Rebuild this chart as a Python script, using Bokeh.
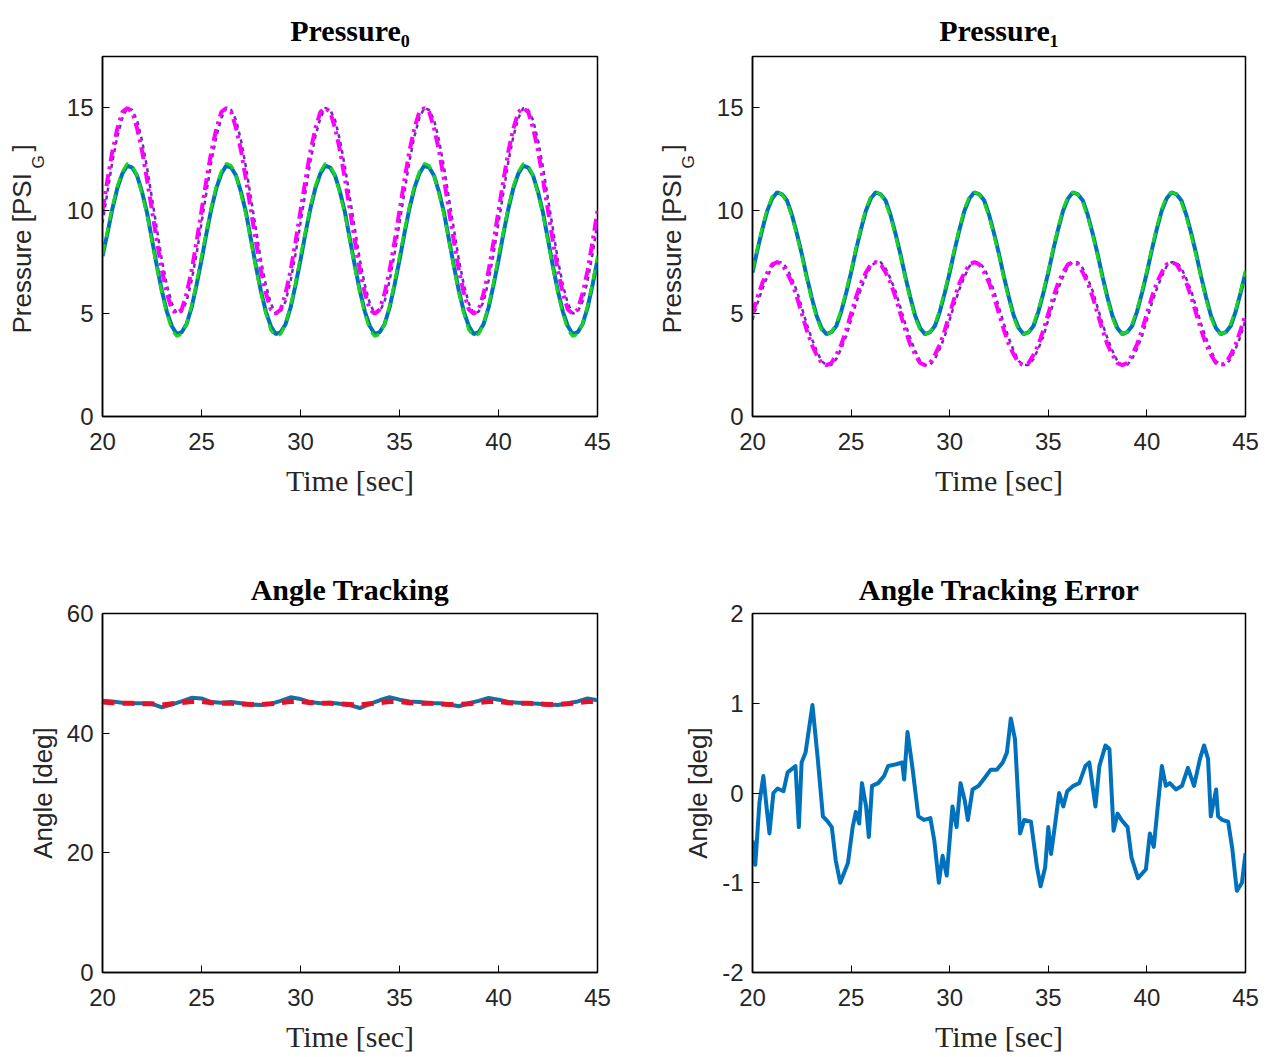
from bokeh.plotting import figure
from bokeh.layouts import gridplot
from bokeh.models import Range1d, FixedTicker, Title
from bokeh.embed import file_html
from bokeh.resources import INLINE

SANS = "Liberation Sans"
SERIF = "Liberation Serif"
TXT = "#262626"

# ---------------- data ----------------
X_TICKS = [20, 25, 30, 35, 40, 45]
P_TICKS = [0, 5, 10, 15]
A_TICKS = [0, 20, 40, 60]
E_TICKS = [-2, -1, 0, 1, 2]
E_TICK_LABELS = {-2: "-2", -1: "-1", 0: "0", 1: "1", 2: "2"}

# pressure samples every 0.25 s from 20 s to 45 s
T_P = [20 + 0.25 * i for i in range(101)]

P0_MEAS = [7.8, 8.9, 10.1, 11.1, 11.8, 12.2, 12.1, 11.7, 10.9, 9.9, 8.6, 7.3, 6.1, 5.1, 4.4, 4.0, 4.1, 4.5, 5.3, 6.4,
           7.6, 8.9, 10.1, 11.1, 11.8, 12.2, 12.1, 11.7, 10.9, 9.9, 8.6, 7.3, 6.1, 5.1, 4.4, 4.0, 4.1, 4.5, 5.3, 6.4,
           7.6, 8.9, 10.1, 11.1, 11.8, 12.2, 12.1, 11.7, 10.9, 9.9, 8.6, 7.3, 6.1, 5.1, 4.4, 4.0, 4.1, 4.5, 5.3, 6.4,
           7.6, 8.9, 10.1, 11.1, 11.8, 12.2, 12.1, 11.7, 10.9, 9.9, 8.6, 7.3, 6.1, 5.1, 4.4, 4.0, 4.1, 4.5, 5.3, 6.4,
           7.6, 8.9, 10.1, 11.1, 11.8, 12.2, 12.1, 11.7, 10.9, 9.9, 8.6, 7.3, 6.1, 5.1, 4.4, 4.0, 4.1, 4.5, 5.3, 6.4,
           7.6]
P0_MODEL = [7.9, 9.0, 10.2, 11.2, 11.9, 12.3, 12.2, 11.7, 10.8, 9.8, 8.5, 7.2, 6.0, 5.0, 4.2, 3.9, 4.0, 4.5, 5.4, 6.5,
            7.8, 9.0, 10.2, 11.2, 11.9, 12.3, 12.2, 11.7, 10.8, 9.8, 8.5, 7.2, 6.0, 5.0, 4.2, 3.9, 4.0, 4.5, 5.4, 6.5,
            7.8, 9.0, 10.2, 11.2, 11.9, 12.3, 12.2, 11.7, 10.8, 9.8, 8.5, 7.2, 6.0, 5.0, 4.2, 3.9, 4.0, 4.5, 5.4, 6.5,
            7.8, 9.0, 10.2, 11.2, 11.9, 12.3, 12.2, 11.7, 10.8, 9.8, 8.5, 7.2, 6.0, 5.0, 4.2, 3.9, 4.0, 4.5, 5.4, 6.5,
            7.8, 9.0, 10.2, 11.2, 11.9, 12.3, 12.2, 11.7, 10.8, 9.8, 8.5, 7.2, 6.0, 5.0, 4.2, 3.9, 4.0, 4.5, 5.4, 6.5,
            7.8]
P0_CMD = [10.0, 11.5, 12.9, 14.0, 14.8, 15.0, 14.8, 14.0, 12.9, 11.5, 10.0, 8.5, 7.1, 6.0, 5.2, 5.0, 5.2, 6.0, 7.1, 8.5,
          10.0, 11.5, 12.9, 14.0, 14.8, 15.0, 14.8, 14.0, 12.9, 11.5, 10.0, 8.5, 7.1, 6.0, 5.2, 5.0, 5.2, 6.0, 7.1, 8.5,
          10.0, 11.5, 12.9, 14.0, 14.8, 15.0, 14.8, 14.0, 12.9, 11.5, 10.0, 8.5, 7.1, 6.0, 5.2, 5.0, 5.2, 6.0, 7.1, 8.5,
          10.0, 11.5, 12.9, 14.0, 14.8, 15.0, 14.8, 14.0, 12.9, 11.5, 10.0, 8.5, 7.1, 6.0, 5.2, 5.0, 5.2, 6.0, 7.1, 8.5,
          10.0, 11.5, 12.9, 14.0, 14.8, 15.0, 14.8, 14.0, 12.9, 11.5, 10.0, 8.5, 7.1, 6.0, 5.2, 5.0, 5.2, 6.0, 7.1, 8.5,
          10.0]
P0_DES = [9.4, 10.9, 12.4, 13.6, 14.5, 15.0, 14.9, 14.4, 13.4, 12.1, 10.6, 9.1, 7.6, 6.4, 5.5, 5.0, 5.1, 5.6, 6.6, 7.9,
          9.4, 10.9, 12.4, 13.6, 14.5, 15.0, 14.9, 14.4, 13.4, 12.1, 10.6, 9.1, 7.6, 6.4, 5.5, 5.0, 5.1, 5.6, 6.6, 7.9,
          9.4, 10.9, 12.4, 13.6, 14.5, 15.0, 14.9, 14.4, 13.4, 12.1, 10.6, 9.1, 7.6, 6.4, 5.5, 5.0, 5.1, 5.6, 6.6, 7.9,
          9.4, 10.9, 12.4, 13.6, 14.5, 15.0, 14.9, 14.4, 13.4, 12.1, 10.6, 9.1, 7.6, 6.4, 5.5, 5.0, 5.1, 5.6, 6.6, 7.9,
          9.4, 10.9, 12.4, 13.6, 14.5, 15.0, 14.9, 14.4, 13.4, 12.1, 10.6, 9.1, 7.6, 6.4, 5.5, 5.0, 5.1, 5.6, 6.6, 7.9,
          9.4]

P1_MEAS = [7.0, 8.1, 9.1, 10.0, 10.6, 10.9, 10.8, 10.5, 9.8, 8.9, 7.9, 6.8, 5.8, 4.9, 4.3, 4.0, 4.1, 4.4, 5.1, 6.0,
           7.0, 8.1, 9.1, 10.0, 10.6, 10.9, 10.8, 10.5, 9.8, 8.9, 7.9, 6.8, 5.8, 4.9, 4.3, 4.0, 4.1, 4.4, 5.1, 6.0,
           7.0, 8.1, 9.1, 10.0, 10.6, 10.9, 10.8, 10.5, 9.8, 8.9, 7.9, 6.8, 5.8, 4.9, 4.3, 4.0, 4.1, 4.4, 5.1, 6.0,
           7.0, 8.1, 9.1, 10.0, 10.6, 10.9, 10.8, 10.5, 9.8, 8.9, 7.9, 6.8, 5.8, 4.9, 4.3, 4.0, 4.1, 4.4, 5.1, 6.0,
           7.0, 8.1, 9.1, 10.0, 10.6, 10.9, 10.8, 10.5, 9.8, 8.9, 7.9, 6.8, 5.8, 4.9, 4.3, 4.0, 4.1, 4.4, 5.1, 6.0,
           7.0]
P1_MODEL = [7.1, 8.2, 9.2, 10.1, 10.7, 10.9, 10.8, 10.4, 9.7, 8.8, 7.8, 6.7, 5.7, 4.8, 4.2, 4.0, 4.1, 4.5, 5.2, 6.1,
            7.1, 8.2, 9.2, 10.1, 10.7, 10.9, 10.8, 10.4, 9.7, 8.8, 7.8, 6.7, 5.7, 4.8, 4.2, 4.0, 4.1, 4.5, 5.2, 6.1,
            7.1, 8.2, 9.2, 10.1, 10.7, 10.9, 10.8, 10.4, 9.7, 8.8, 7.8, 6.7, 5.7, 4.8, 4.2, 4.0, 4.1, 4.5, 5.2, 6.1,
            7.1, 8.2, 9.2, 10.1, 10.7, 10.9, 10.8, 10.4, 9.7, 8.8, 7.8, 6.7, 5.7, 4.8, 4.2, 4.0, 4.1, 4.5, 5.2, 6.1,
            7.1, 8.2, 9.2, 10.1, 10.7, 10.9, 10.8, 10.4, 9.7, 8.8, 7.8, 6.7, 5.7, 4.8, 4.2, 4.0, 4.1, 4.5, 5.2, 6.1,
            7.1]
P1_CMD = [5.0, 5.8, 6.5, 7.0, 7.4, 7.5, 7.4, 7.0, 6.5, 5.8, 5.0, 4.2, 3.5, 3.0, 2.6, 2.5, 2.6, 3.0, 3.5, 4.2,
          5.0, 5.8, 6.5, 7.0, 7.4, 7.5, 7.4, 7.0, 6.5, 5.8, 5.0, 4.2, 3.5, 3.0, 2.6, 2.5, 2.6, 3.0, 3.5, 4.2,
          5.0, 5.8, 6.5, 7.0, 7.4, 7.5, 7.4, 7.0, 6.5, 5.8, 5.0, 4.2, 3.5, 3.0, 2.6, 2.5, 2.6, 3.0, 3.5, 4.2,
          5.0, 5.8, 6.5, 7.0, 7.4, 7.5, 7.4, 7.0, 6.5, 5.8, 5.0, 4.2, 3.5, 3.0, 2.6, 2.5, 2.6, 3.0, 3.5, 4.2,
          5.0, 5.8, 6.5, 7.0, 7.4, 7.5, 7.4, 7.0, 6.5, 5.8, 5.0, 4.2, 3.5, 3.0, 2.6, 2.5, 2.6, 3.0, 3.5, 4.2,
          5.0]
P1_DES = [4.7, 5.5, 6.2, 6.8, 7.3, 7.5, 7.5, 7.2, 6.7, 6.1, 5.3, 4.5, 3.8, 3.2, 2.7, 2.5, 2.5, 2.8, 3.3, 3.9,
          4.7, 5.5, 6.2, 6.8, 7.3, 7.5, 7.5, 7.2, 6.7, 6.1, 5.3, 4.5, 3.8, 3.2, 2.7, 2.5, 2.5, 2.8, 3.3, 3.9,
          4.7, 5.5, 6.2, 6.8, 7.3, 7.5, 7.5, 7.2, 6.7, 6.1, 5.3, 4.5, 3.8, 3.2, 2.7, 2.5, 2.5, 2.8, 3.3, 3.9,
          4.7, 5.5, 6.2, 6.8, 7.3, 7.5, 7.5, 7.2, 6.7, 6.1, 5.3, 4.5, 3.8, 3.2, 2.7, 2.5, 2.5, 2.8, 3.3, 3.9,
          4.7, 5.5, 6.2, 6.8, 7.3, 7.5, 7.5, 7.2, 6.7, 6.1, 5.3, 4.5, 3.8, 3.2, 2.7, 2.5, 2.5, 2.8, 3.3, 3.9,
          4.7]

# angle samples every 0.5 s
T_A = [20 + 0.5 * i for i in range(51)]
ANG_MEAS = [45.4, 45.3, 45.1, 45.0, 45.0, 44.9, 44.3, 44.8, 45.3, 45.9,
            45.8, 45.2, 45.1, 45.2, 45.0, 44.8, 44.7, 44.9, 45.4, 46.0,
            45.7, 45.2, 45.0, 45.1, 44.9, 44.7, 44.2, 44.9, 45.5, 46.0,
            45.6, 45.3, 45.2, 45.0, 45.0, 44.8, 44.5, 45.0, 45.4, 45.9,
            45.6, 45.2, 45.1, 45.0, 44.9, 44.8, 44.7, 45.0, 45.3, 45.8,
            45.5]
ANG_REF = [45.2, 45.1, 45.0, 45.0, 44.9, 44.9, 44.7, 44.9, 45.1, 45.3,
           45.3, 45.1, 45.0, 45.0, 44.9, 44.8, 44.8, 44.9, 45.1, 45.3,
           45.3, 45.1, 45.0, 45.0, 44.9, 44.8, 44.7, 44.9, 45.1, 45.3,
           45.3, 45.1, 45.0, 45.0, 44.9, 44.8, 44.8, 44.9, 45.1, 45.3,
           45.3, 45.1, 45.0, 45.0, 44.9, 44.8, 44.8, 44.9, 45.1, 45.3,
           45.3]

ERR_T = [20.00, 20.14, 20.35, 20.55, 20.71, 20.86, 21.06, 21.27, 21.57, 21.78,
         22.18, 22.35, 22.49, 22.69, 23.04, 23.31, 23.57, 23.82, 24.02, 24.22,
         24.45, 24.84, 25.08, 25.24, 25.41, 25.55, 25.76, 25.90, 26.06, 26.37,
         26.67, 26.88, 27.29, 27.59, 27.69, 27.86, 28.10, 28.41, 28.71, 29.02,
         29.22, 29.45, 29.64, 29.85, 30.14, 30.35, 30.55, 30.76, 30.92, 31.16,
         31.47, 31.78, 32.08, 32.39, 32.69, 32.90, 33.10, 33.31, 33.57, 33.78,
         34.12, 34.43, 34.61, 34.84, 35.00, 35.14, 35.35, 35.55, 35.76, 35.96,
         36.27, 36.57, 36.88, 37.08, 37.39, 37.59, 37.90, 38.10, 38.31, 38.51,
         38.71, 39.02, 39.22, 39.55, 39.95, 40.15, 40.35, 40.55, 40.76, 40.96,
         41.16, 41.47, 41.78, 42.08, 42.39, 42.69, 42.90, 43.10, 43.24, 43.51,
         43.61, 43.82, 44.12, 44.33, 44.56, 44.82, 45.00]
ERR_V = [-0.53, -0.80, -0.11, 0.19, -0.15, -0.45, 0.00, 0.05, 0.02, 0.23,
         0.30, -0.38, 0.34, 0.45, 0.98, 0.38, -0.26, -0.32, -0.38, -0.75,
         -1.00, -0.78, -0.38, -0.21, -0.34, 0.11, -0.15, -0.49, 0.08, 0.11,
         0.19, 0.30, 0.32, 0.34, 0.15, 0.68, 0.30, -0.26, -0.30, -0.28,
         -0.53, -1.00, -0.70, -0.92, -0.15, -0.38, 0.11, -0.08, -0.30, 0.04,
         0.08, 0.17, 0.26, 0.26, 0.34, 0.45, 0.83, 0.60, -0.45, -0.30,
         -0.32, -0.83, -1.04, -0.83, -0.38, -0.68, -0.34, 0.00, -0.15, 0.02,
         0.08, 0.11, 0.30, 0.34, -0.15, 0.30, 0.53, 0.49, -0.42, -0.23,
         -0.30, -0.38, -0.72, -0.95, -0.85, -0.45, -0.60, -0.15, 0.30, 0.08,
         0.11, 0.04, 0.08, 0.28, 0.08, 0.38, 0.53, 0.38, -0.26, 0.04,
         -0.26, -0.30, -0.32, -0.62, -1.09, -1.00, -0.67]

BLUE = "#0072BD"
GREEN = "#19D619"
MAGENTA = "#FF00FF"
PURPLE = "#6A2FB8"
RED = "#E3122B"


def make_fig(w, h, left, right, top, bottom, yr, yticks, title, title_standoff):
    p = figure(width=w, height=h, output_backend="svg", toolbar_location=None,
               x_range=Range1d(20, 45), y_range=Range1d(*yr),
               min_border_left=left, min_border_right=right,
               min_border_top=top, min_border_bottom=bottom)
    p.title.text = ""
    p.xgrid.visible = False
    p.ygrid.visible = False
    p.outline_line_color = "black"
    p.outline_line_width = 1.5
    p.outline_line_alpha = 1.0
    p.background_fill_color = "white"
    p.border_fill_color = "white"
    xa = p.xaxis[0]
    ya = p.yaxis[0]
    for ax in (xa, ya):
        ax.major_tick_in = 7
        ax.major_tick_out = 0
        ax.minor_tick_in = 0
        ax.minor_tick_out = 0
        ax.axis_line_color = "black"
        ax.axis_line_width = 1.5
        ax.major_tick_line_color = "black"
        ax.major_label_text_font = SANS
        ax.major_label_text_font_size = "24px"
        ax.major_label_text_color = TXT
    ya.major_label_standoff = 9
    xa.major_label_standoff = 16
    xa.ticker = FixedTicker(ticks=X_TICKS)
    ya.ticker = FixedTicker(ticks=yticks)
    xa.axis_label = "Time [sec]"
    xa.axis_label_text_font = SERIF
    xa.axis_label_text_font_size = "30px"
    xa.axis_label_text_font_style = "normal"
    xa.axis_label_text_color = TXT
    xa.axis_label_standoff = 11
    p.add_layout(Title(text=title, align="center", vertical_align="bottom",
                       text_font=SERIF, text_font_size="30px", text_font_style="bold",
                       text_color="black", standoff=title_standoff), "above")
    return p, ya


def pressure_label(p):
    # subscript first (closer to the axis), then the main text further out
    p.add_layout(Title(text="G", align="left", offset=248, standoff=31,
                       text_font=SANS, text_font_size="17px",
                       text_font_style="normal", text_color=TXT), "left")
    p.add_layout(Title(text="Pressure [PSI\u00a0\u00a0\u00a0]", align="left", offset=83, standoff=-50,
                       text_font=SANS, text_font_size="26px",
                       text_font_style="normal", text_color=TXT), "left")


def pressure_lines(p, cmd, des, meas, model):
    p.line(T_P, des, line_color=PURPLE, line_width=2.5, line_dash="4 4")
    p.line(T_P, cmd, line_color=MAGENTA, line_width=4, line_dash="12 5 3 5")
    p.line(T_P, meas, line_color=BLUE, line_width=4)
    p.line(T_P, model, line_color=GREEN, line_width=3, line_dash="10 7")


TOP_H = 530
BOT_H = 525

p0, _ = make_fig(635, TOP_H, 102, 38, 56, TOP_H - 416, (0, 17.5), P_TICKS, "Pressure\u2080", 20)
pressure_lines(p0, P0_CMD, P0_DES, P0_MEAS, P0_MODEL)
pressure_label(p0)

p1, _ = make_fig(633, TOP_H, 117, 23, 56, TOP_H - 416, (0, 17.5), P_TICKS, "Pressure\u2081", 20)
pressure_lines(p1, P1_CMD, P1_DES, P1_MEAS, P1_MODEL)
pressure_label(p1)

p2, y2 = make_fig(635, BOT_H, 102, 38, 613 - TOP_H, BOT_H - (972 - TOP_H), (0, 60), A_TICKS,
                  "Angle Tracking", 15)
p2.line(T_A, ANG_MEAS, line_color="#1C6E9E", line_width=4)
p2.line(T_A, ANG_REF, line_color=RED, line_width=5, line_dash="12 8")

p3, y3 = make_fig(633, BOT_H, 117, 23, 613 - TOP_H, BOT_H - (972 - TOP_H), (-2, 2), E_TICKS,
                  "Angle Tracking Error", 15)
p3.line(ERR_T, ERR_V, line_color=BLUE, line_width=4, line_join="round")
y3.major_label_overrides = E_TICK_LABELS

for ya in (y2, y3):
    ya.axis_label = "Angle [deg]"
    ya.axis_label_text_font = SANS
    ya.axis_label_text_font_size = "26px"
    ya.axis_label_text_font_style = "normal"
    ya.axis_label_text_color = TXT
    ya.axis_label_standoff = 6

grid = gridplot([[p0, p1], [p2, p3]], toolbar_location=None)

open("out.html", "w").write(file_html(grid, INLINE))
